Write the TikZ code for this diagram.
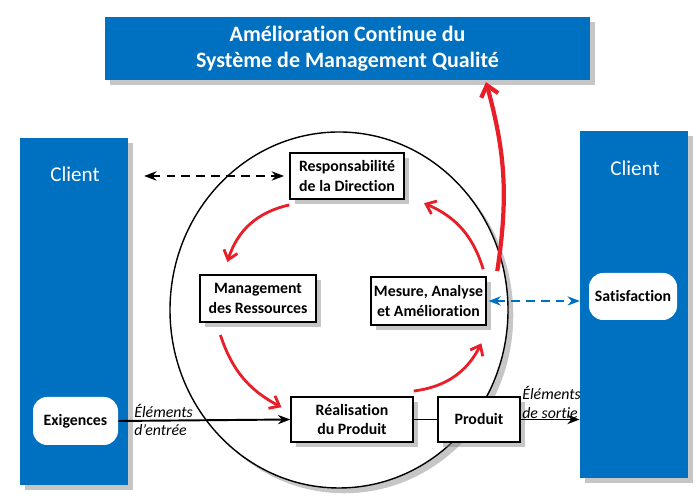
\documentclass[tikz,border=0pt]{standalone}
\usepackage{fontspec}
\setmainfont{Carlito}[Ligatures=NoCommon]
\usepackage{tikz}
\usetikzlibrary{arrows.meta,positioning,calc,shadows}
\definecolor{isoblue}{RGB}{0,112,192}
\definecolor{isored}{RGB}{232,30,40}

\begin{document}
\begin{tikzpicture}[
  shad/.style={drop shadow={opacity=0.45, shadow xshift=3pt, shadow yshift=-3pt}},
  bluebar/.style={fill=isoblue, shad, inner sep=0pt},
  procbox/.style={draw, thick, fill=white, shad, align=center, inner sep=0pt,
    font=\bfseries\fontsize{9}{11}\selectfont},
  clibox/.style={fill=white, rounded corners=8pt, align=center, inner sep=0pt,
    font=\bfseries\fontsize{9}{11}\selectfont},
  redarr/.style={-{Straight Barb[length=5pt,width=8pt]}, isored, line width=1.6pt},
  dashline/.style={line width=1.2pt, dash pattern=on 5pt off 3.5pt},
  lbl/.style={font=\itshape\fontsize{9}{11}\selectfont, align=left, inner sep=0pt}
]
\useasboundingbox (0,0) rectangle (14,10);

% clients and title
\node[bluebar, minimum width=9.7cm, minimum height=1.26cm, align=center,
  text=white, font=\bfseries\fontsize{12.5}{14.5}\selectfont] (title) at (6.95,9.03)
  {Amélioration Continue du\\Système de Management Qualité};
\node[bluebar, minimum width=2.16cm, minimum height=6.94cm] (clientL) at (1.48,3.77) {};
\node[bluebar, minimum width=2.16cm, minimum height=6.94cm] (clientR) at (12.68,3.91) {};
\node[text=white, font=\fontsize{12}{14}\selectfont] (clientLtxt) at (1.5,6.52) {Client};
\node[text=white, font=\fontsize{12}{14}\selectfont] (clientRtxt) at (12.7,6.64) {Client};
\node[clibox, minimum width=1.7cm, minimum height=0.96cm] (exig) at (1.51,1.58) {Exigences};
\node[clibox, minimum width=1.76cm, minimum height=0.94cm] (satis) at (12.66,4.07) {Satisfaction};

% the process circle
\draw[thick, fill=white, shad] (6.78,3.8) ellipse (3.38 and 3.56);

% processes
\node[procbox, minimum width=2.28cm, minimum height=0.92cm] (resp) at (6.94,6.48) {Responsabilité\\de la Direction};
\node[procbox, minimum width=2.32cm, minimum height=0.94cm] (mgmt) at (5.16,4.03) {Management\\des Ressources};
\node[procbox, minimum width=2.3cm, minimum height=0.96cm] (mesure) at (8.57,3.98) {Mesure, Analyse\\et Amélioration};
\node[procbox, minimum width=2.44cm, minimum height=0.9cm] (real) at (7.04,1.61) {Réalisation\\du Produit};
\node[procbox, minimum width=1.64cm, minimum height=0.9cm] (prod) at (9.58,1.61) {Produit};

% flows
\draw[line width=1.1pt, -{Stealth[length=7pt]}] (exig.east) -- (real.west);
\draw[line width=1.1pt] (real.east) -- (prod.west);
\draw[line width=1.1pt, -{Stealth[length=7pt]}] (prod.east) -- (prod.east -| clientR.west);
\node[lbl, anchor=south west] (inA) at (2.68,1.64) {Éléments};
\node[lbl, anchor=north west] (inB) at (2.68,1.52) {d’entrée};
\node[lbl, anchor=south west] (outA) at (10.44,2.0) {Éléments};
\node[lbl, anchor=south west] (outB) at (10.44,1.62) {de sortie};

\draw[dashline, {Stealth[length=7pt]}-{Stealth[length=7pt]}]
  ([xshift=9pt]clientL.east |- resp.west) -- ([xshift=-3pt]resp.west);
\draw[isoblue, dashline, {Stealth[length=7pt]}-{Stealth[length=7pt]}]
  ([xshift=1pt]mesure.east) -- ([xshift=-5pt]satis.west |- mesure.east);

% improvement cycle
\draw[redarr] ([yshift=-3pt]resp.south west) to[bend right=30] ([xshift=16pt,yshift=7pt]mgmt.north west);
\draw[redarr] ([xshift=12pt,yshift=-7pt]mgmt.south west) to[bend right=22] ([xshift=-5pt,yshift=7pt]real.west);
\draw[redarr] ([yshift=3pt]real.north east) to[bend right=28] ([xshift=-3pt,yshift=-10pt]mesure.south east);
\draw[redarr] ([xshift=-2pt,yshift=4pt]mesure.north east) to[bend right=25] ([xshift=11pt,yshift=-2pt]resp.south east);
\draw[isored, line width=2.4pt, -{Straight Barb[length=6pt,width=10pt]}]
  ([xshift=6pt,yshift=3pt]mesure.north east) to[bend right=12] ([xshift=2.77cm,yshift=-1pt]title.south);
\end{tikzpicture}
\end{document}
